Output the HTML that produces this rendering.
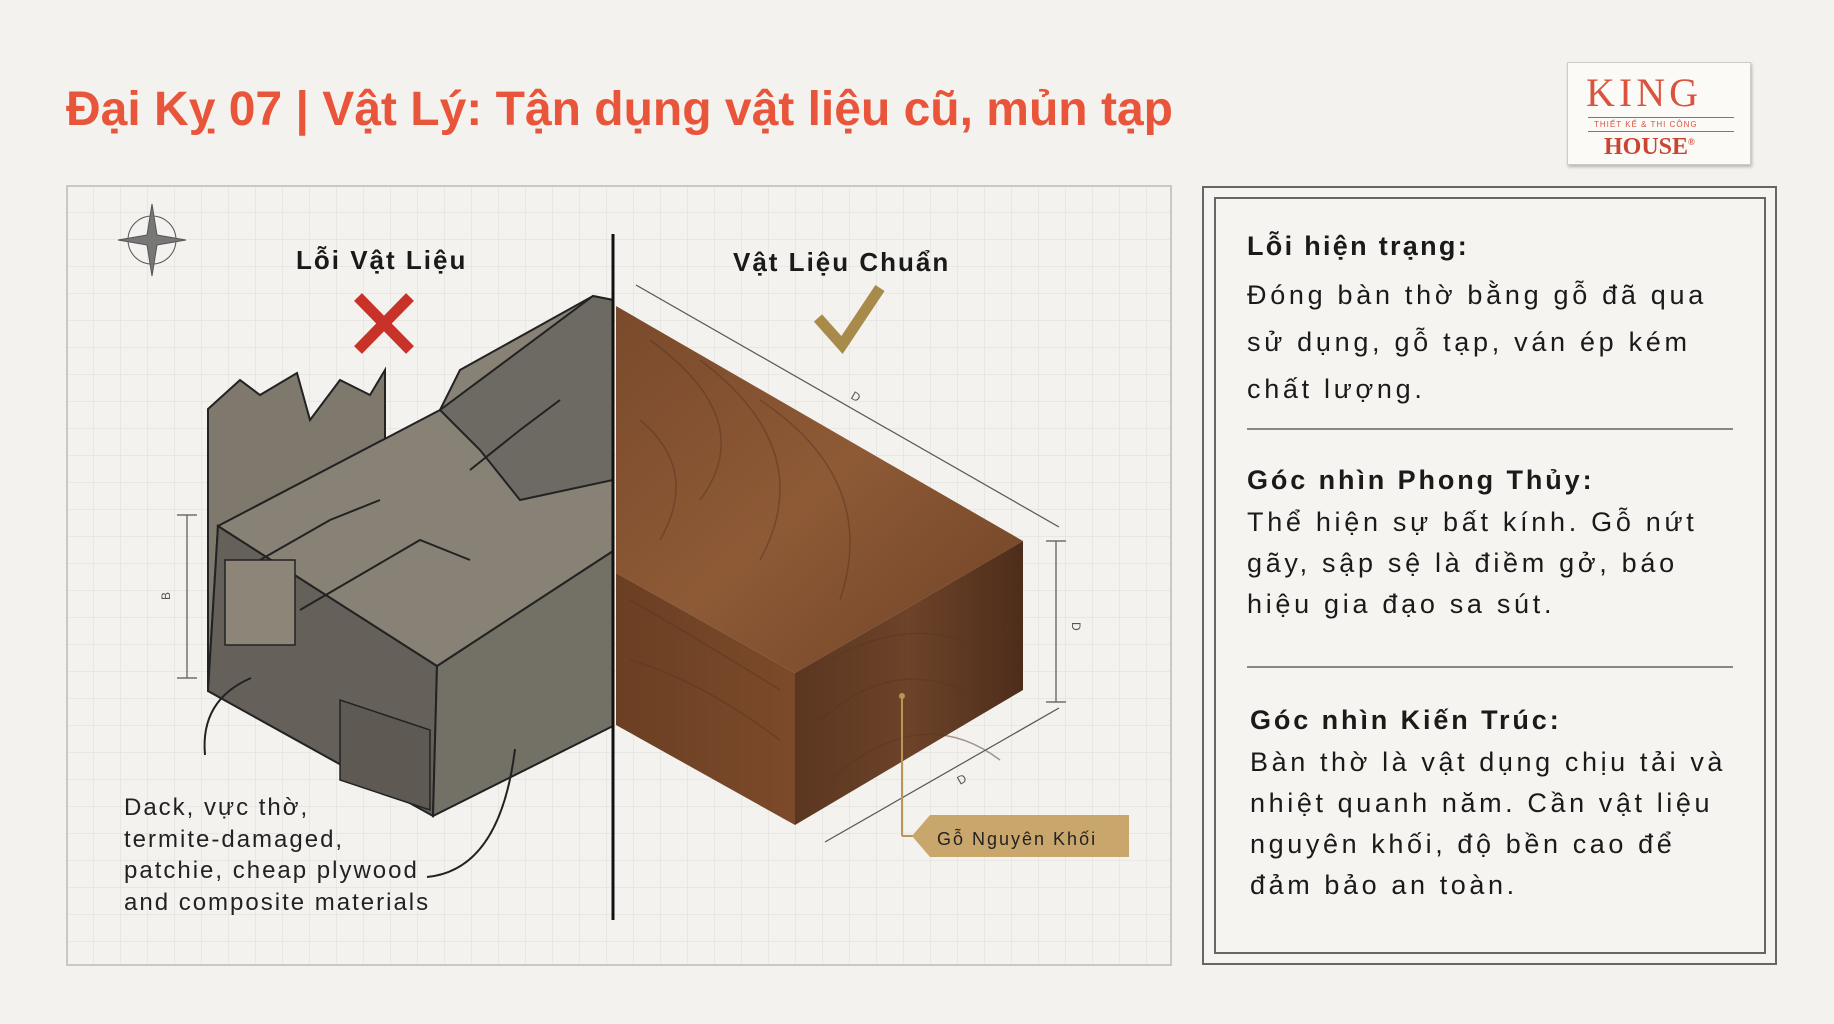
<!DOCTYPE html>
<html><head><meta charset="utf-8"><style>
*{margin:0;padding:0;box-sizing:border-box}
body{width:1834px;height:1024px;background:#f3f2ee;position:relative;overflow:hidden;font-family:"Liberation Sans","DejaVu Sans",sans-serif}
.t{position:absolute;white-space:nowrap}
</style></head><body>
<div class="t" style="left:66px;top:82px;font-size:48px;font-weight:bold;color:#e8553a;letter-spacing:0px">Đại Kỵ 07 | Vật Lý: Tận dụng vật liệu cũ, mủn tạp</div>

<div style="position:absolute;left:1567px;top:62px;width:184px;height:103px;background:#fbfaf7;border:1px solid #ccc;box-shadow:1px 2px 3px rgba(0,0,0,.25)">
 <div class="t" style="left:18px;top:6px;font-size:40px;font-family:'Liberation Serif',serif;color:#d9533e;letter-spacing:4px">KING</div>
 <div style="position:absolute;left:20px;top:54px;width:146px;border-top:1px solid #d9533e"></div>
 <div class="t" style="left:26px;top:57px;font-size:8px;color:#d9533e;letter-spacing:1px">THIẾT KẾ &amp; THI CÔNG</div>
 <div style="position:absolute;left:20px;top:68px;width:146px;border-top:1px solid #d9533e"></div>
 <div class="t" style="left:36px;top:71px;font-size:24px;font-weight:bold;font-family:'Liberation Serif',serif;color:#c94532">HOUSE<sup style="font-size:9px">®</sup></div>
</div>

<svg width="1834" height="1024" style="position:absolute;left:0;top:0">
<defs>
<pattern id="g" width="27" height="27" patternUnits="userSpaceOnUse" x="67" y="186"><path d="M27 0V27H0" fill="none" stroke="#dcdcda" stroke-width="1"/></pattern>
<linearGradient id="wt" x1="0" y1="0" x2="1" y2="1"><stop offset="0" stop-color="#7a4a2c"/><stop offset=".5" stop-color="#8e5a36"/><stop offset="1" stop-color="#6e4226"/></linearGradient>
<linearGradient id="wf" x1="0" y1="0" x2="1" y2="0"><stop offset="0" stop-color="#5b3620"/><stop offset=".5" stop-color="#6d4329"/><stop offset="1" stop-color="#4d2d1a"/></linearGradient>
<linearGradient id="wl" x1="0" y1="0" x2="1" y2="0"><stop offset="0" stop-color="#6b3f23"/><stop offset="1" stop-color="#7c4a2a"/></linearGradient>
</defs>
<rect x="67" y="186" width="1104" height="779" fill="url(#g)" stroke="#c8c8c6" stroke-width="2"/>
<rect x="1203" y="187" width="573" height="777" fill="#f5f4f0" stroke="#666" stroke-width="2"/>
<rect x="1215" y="198" width="550" height="755" fill="none" stroke="#666" stroke-width="2"/>
<line x1="1247" y1="429" x2="1733" y2="429" stroke="#888" stroke-width="2"/>
<line x1="1247" y1="667" x2="1733" y2="667" stroke="#888" stroke-width="2"/>
<g transform="translate(152,240)" stroke="#555" fill="#777">
<circle r="24" fill="none" stroke-width="1"/>
<path d="M0-36 L5-5 L34 0 L5 5 L0 36 L-5 5 L-34 0 L-5-5Z" stroke-width="1"/>
</g>
<g stroke="#222" stroke-width="2">
<path d="M208 409 L240 380 L260 395 L297 373 L310 420 L340 380 L370 395 L385 370 L385 470 L218 526 L208 690Z" fill="#7e786d"/>
<path d="M218 526 L437 666 L433 816 L208 691Z" fill="#65615a"/>
<path d="M437 666 L613 551 L613 726 L433 816Z" fill="#737066"/>
<path d="M218 526 L440 410 L460 370 L593 296 L613 300 L613 551 L437 666Z" fill="#878275"/>
<path d="M440 410 L593 296 L613 300 L613 480 L520 500 L480 450Z" fill="#6d6a64"/>
<path d="M260 560 L330 520 L380 500 M300 610 L420 540 L470 560 M470 470 L520 430 L560 400" fill="none"/>
<rect x="225" y="560" width="70" height="85" fill="#8e8579" stroke-width="1.5"/>
<path d="M340 700 L430 730 L430 810 L340 780Z" fill="#5e5a53" stroke-width="1.5"/>
</g>
<line x1="613" y1="234" x2="613" y2="920" stroke="#111" stroke-width="3"/>
<path d="M616 306 L1023 541 L795 673 L616 573Z" fill="url(#wt)"/>
<path d="M795 673 L1023 541 L1023 690 L795 825Z" fill="url(#wf)"/>
<path d="M616 573 L795 673 L795 825 L616 725Z" fill="url(#wl)"/>
<g fill="none" stroke="#5a3520" stroke-width="1.5" opacity=".5">
<path d="M650 340 Q760 420 700 500 M700 360 Q820 450 760 560 M760 400 Q880 480 840 600 M640 420 Q700 470 660 540"/>
<path d="M830 660 Q900 620 960 640 Q1000 660 1010 620 M820 720 Q900 650 980 700 M830 780 Q920 700 1000 760"/>
<path d="M630 600 Q700 640 780 690 M630 660 Q700 680 780 740"/>
</g>
<g stroke="#555" stroke-width="1.2" fill="none">
<line x1="636" y1="285" x2="1059" y2="527"/>
<line x1="1056" y1="541" x2="1056" y2="702"/>
<line x1="1046" y1="541" x2="1066" y2="541"/><line x1="1046" y1="702" x2="1066" y2="702"/>
<line x1="825" y1="842" x2="1059" y2="708"/>
<line x1="187" y1="515" x2="187" y2="678"/>
<line x1="177" y1="515" x2="197" y2="515"/><line x1="177" y1="678" x2="197" y2="678"/>
<line x1="902" y1="696" x2="902" y2="836" stroke="#b9955a" stroke-width="2"/>
<line x1="902" y1="836" x2="930" y2="836" stroke="#b9955a" stroke-width="2"/>
<path d="M205 755 Q200 700 251 678" stroke="#222" stroke-width="2"/>
<path d="M427 877 Q500 870 515 749" stroke="#222" stroke-width="2"/>
</g>
<circle cx="902" cy="696" r="3" fill="#b9955a"/>
<text x="850" y="398" font-size="12" fill="#555" transform="rotate(30 850 398)">D</text>
<text x="1072" y="622" font-size="12" fill="#555" transform="rotate(90 1072 622)">D</text>
<text x="960" y="785" font-size="12" fill="#555" transform="rotate(-30 960 785)">D</text>
<text x="170" y="600" font-size="12" fill="#555" transform="rotate(-90 170 600)">B</text>
<path d="M912 836 L930 815 L1129 815 L1129 857 L930 857Z" fill="#c9a66b"/>
<text x="937" y="845" font-size="18" fill="#222" letter-spacing="2">Gỗ Nguyên Khối</text>
<path d="M358 297 L410 350 M410 297 L358 350" stroke="#c83228" stroke-width="11"/>
<path d="M818 318 L842 345 L880 288" stroke="#a88a4a" stroke-width="11" fill="none"/>
</svg>

<div class="t" style="left:296px;top:245px;font-size:26px;font-weight:bold;color:#1a1a1a;letter-spacing:2px">Lỗi Vật Liệu</div>
<div class="t" style="left:733px;top:247px;font-size:26px;font-weight:bold;color:#1a1a1a;letter-spacing:2px">Vật Liệu Chuẩn</div>

<div class="t" style="left:124px;top:792px;font-size:24px;line-height:31.5px;color:#222;letter-spacing:2px">Dack, vực thờ,<br>termite-damaged,<br>patchie, cheap plywood<br>and composite materials</div>

<div class="t" style="left:1247px;top:231px;font-size:27px;font-weight:bold;color:#1a1a1a;letter-spacing:2.3px">Lỗi hiện trạng:</div>
<div class="t" style="left:1247px;top:272px;font-size:27px;line-height:47px;color:#1a1a1a;letter-spacing:3.7px">Đóng bàn thờ bằng gỗ đã qua<br>sử dụng, gỗ tạp, ván ép kém<br>chất lượng.</div>
<div class="t" style="left:1247px;top:465px;font-size:27px;font-weight:bold;color:#1a1a1a;letter-spacing:2.9px">Góc nhìn Phong Thủy:</div>
<div class="t" style="left:1247px;top:502px;font-size:27px;line-height:41px;color:#1a1a1a;letter-spacing:3.7px">Thể hiện sự bất kính. Gỗ nứt<br>gãy, sập sệ là điềm gở, báo<br>hiệu gia đạo sa sút.</div>
<div class="t" style="left:1250px;top:705px;font-size:27px;font-weight:bold;color:#1a1a1a;letter-spacing:2.9px">Góc nhìn Kiến Trúc:</div>
<div class="t" style="left:1250px;top:742px;font-size:27px;line-height:41px;color:#1a1a1a;letter-spacing:3.6px">Bàn thờ là vật dụng chịu tải và<br>nhiệt quanh năm. Cần vật liệu<br>nguyên khối, độ bền cao để<br>đảm bảo an toàn.</div>
</body></html>
